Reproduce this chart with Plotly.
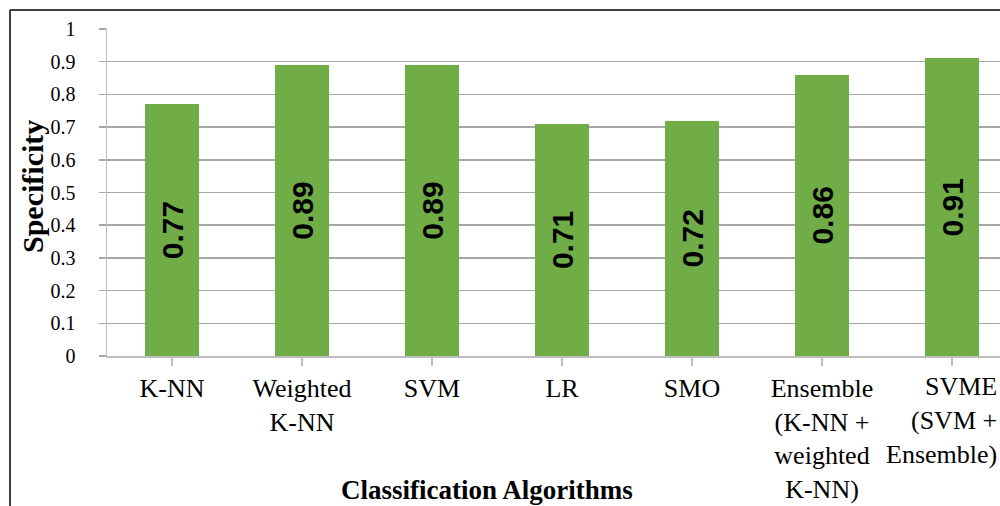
import plotly.graph_objects as go

categories = ["K-NN", "Weighted<br>K-NN", "SVM", "LR", "SMO",
              "Ensemble<br>(K-NN +<br>weighted<br>K-NN)",
              "SVME<br>(SVM +<br>Ensemble)"]
specificity = [0.77, 0.89, 0.89, 0.71, 0.72, 0.86, 0.91]
y_ticks = [0, 0.1, 0.2, 0.3, 0.4, 0.5, 0.6, 0.7, 0.8, 0.9, 1]
y_ticklabels = ["0", "0.1", "0.2", "0.3", "0.4", "0.5", "0.6", "0.7", "0.8", "0.9", "1"]

# page body margin is removed (see post_script), so screen coords = figure coords
W, H = 1000, 506
L, T = 107, 29
ph = 327
B = H - T - ph
pw = W - L
cat_px = 130.0


def px(xs):
    return (xs - L) / pw


def py(ys):
    return (H - B - ys) / ph


fig = go.Figure()
fig.add_trace(go.Bar(
    x=list(range(len(categories))),
    y=specificity,
    width=0.41,
    marker=dict(color="#70AD47", line=dict(width=0)),
    text=[f"{v:.2f}" for v in specificity],
    textposition="inside",
    insidetextanchor="middle",
    textangle=-90,
    textfont=dict(family="Liberation Sans, Arial", size=30, color="black", weight="bold"),
    hoverinfo="skip",
))

# last label sits against the right edge, right-aligned (as in the reference)
ticktext = categories[:-1] + [""]

fig.update_layout(
    width=W, height=H,
    margin=dict(l=L, r=0, t=T, b=B, pad=0),
    paper_bgcolor="white",
    plot_bgcolor="white",
    showlegend=False,
    bargap=0,
    xaxis=dict(
        range=[-0.5, -0.5 + pw / cat_px],
        tickmode="array",
        tickvals=list(range(len(categories))),
        ticktext=ticktext,
        tickson="boundaries",
        ticklabeloverflow="allow",
        showgrid=False,
        showline=True, linecolor="#BFBFBF", linewidth=1.5,
        ticks="outside", ticklen=8, tickcolor="#BFBFBF", tickwidth=1.5,
        tickfont=dict(family="Liberation Serif, Times New Roman", size=26, color="black"),
        zeroline=False,
        automargin=False,
        fixedrange=True,
    ),
    yaxis=dict(
        range=[0, 1],
        tickmode="array",
        tickvals=y_ticks,
        ticktext=y_ticklabels,
        showgrid=True, gridcolor="#A6A6A6", gridwidth=1.5,
        showline=True, linecolor="#BFBFBF", linewidth=1.5,
        ticks="outside", ticklen=7, tickcolor="#A6A6A6", tickwidth=1.5,
        ticklabelstandoff=19,
        tickfont=dict(family="Liberation Serif, Times New Roman", size=20, color="black"),
        zeroline=False,
        automargin=False,
        fixedrange=True,
    ),
)

fig.add_annotation(
    text=categories[-1], xref="paper", yref="paper",
    x=px(999), y=py(370),
    showarrow=False, xanchor="right", yanchor="top", align="right",
    font=dict(family="Liberation Serif, Times New Roman", size=26, color="black"),
)

fig.add_annotation(
    text="<b>Specificity</b>", xref="paper", yref="paper",
    x=px(33), y=py(187), textangle=-90,
    showarrow=False, xanchor="center", yanchor="middle",
    font=dict(family="Liberation Serif, Times New Roman", size=30, color="black"),
)
fig.add_annotation(
    text="<b>Classification Algorithms</b>", xref="paper", yref="paper",
    x=px(487), y=py(490),
    showarrow=False, xanchor="center", yanchor="middle",
    font=dict(family="Liberation Serif, Times New Roman", size=27, color="black"),
)

# outer frame: left and top edges
frame = dict(color="#404040", width=2)
fig.add_shape(type="line", xref="paper", yref="paper",
              x0=px(10), x1=px(10), y0=py(10), y1=py(506), line=frame)
fig.add_shape(type="line", xref="paper", yref="paper",
              x0=px(10), x1=px(1000), y0=py(10), y1=py(10), line=frame)

fig.write_html(
    "out.html",
    config={"displayModeBar": False, "staticPlot": True},
    post_script="document.body.style.margin='0';document.body.style.overflow='hidden';",
)
